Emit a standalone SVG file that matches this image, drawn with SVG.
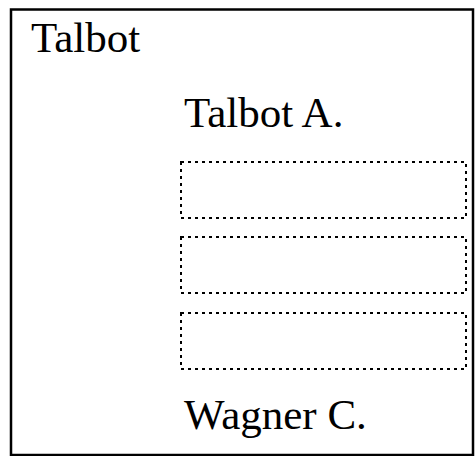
<svg xmlns="http://www.w3.org/2000/svg" width="476" height="456" viewBox="0 0 476 456">
  <style>
    .frame { fill: #ffffff; stroke: #000000; stroke-width: 2.5; }
    .slot { fill: none; stroke: #000000; stroke-width: 2; stroke-dasharray: 3 4; }
    .label { font-family: "Liberation Serif", "Times New Roman", serif; font-size: 43px; fill: #000000; }
  </style>
  <rect x="0" y="0" width="476" height="456" fill="#ffffff"/>
  <g id="talbot">
    <rect class="frame" x="11" y="9.5" width="462" height="445.5"/>
    <text class="label" x="31" y="52">Talbot</text>
  </g>
  <g id="talbot-a">
    <text class="label" x="184" y="127">Talbot A.</text>
  </g>
  <g id="slot-1">
    <rect class="slot" x="181" y="162" width="285" height="56"/>
  </g>
  <g id="slot-2">
    <rect class="slot" x="181" y="237" width="285" height="56"/>
  </g>
  <g id="slot-3">
    <rect class="slot" x="181" y="313" width="285" height="56"/>
  </g>
  <g id="wagner-c">
    <text class="label" x="184" y="429">Wagner C.</text>
  </g>
  <g id="connectors"/>
</svg>
